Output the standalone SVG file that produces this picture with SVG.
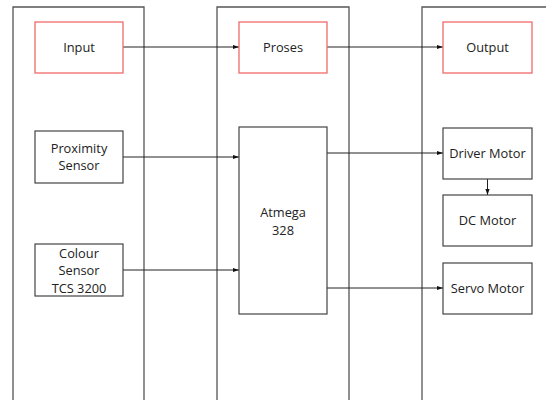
<svg xmlns="http://www.w3.org/2000/svg" width="546" height="400" viewBox="0 0 546 400">
<style>
.lane{fill:none;stroke:#555;stroke-width:1.3}
.box{fill:#fff;stroke:#444;stroke-width:1.2}
.red{fill:#fff;stroke:#f26b6b;stroke-width:1.3}
.t{font-family:"Open Sans","Liberation Sans",sans-serif;font-size:12.8px;fill:#222;text-anchor:middle}
.c{fill:none;stroke:#222;stroke-width:1}
</style>
<defs>
<marker id="a" viewBox="0 0 10 10" refX="10" refY="5" markerWidth="6" markerHeight="6" orient="auto" markerUnits="userSpaceOnUse">
<path d="M0,1.5 L10,5 L0,8.5 Z" fill="#111"/>
</marker>
</defs>
<rect width="546" height="400" fill="#fff"/>
<g id="lanes">
<path class="lane" d="M13,402 V7 H144 V402"/>
<path class="lane" d="M217,402 V7 H349 V402"/>
<path class="lane" d="M422,402 V7 H548"/>
</g>
<g id="connectors">
<line class="c" x1="123" y1="47" x2="239" y2="47" marker-end="url(#a)"/>
<line class="c" x1="327" y1="47" x2="443" y2="47" marker-end="url(#a)"/>
<line class="c" x1="123" y1="157" x2="239" y2="157" marker-end="url(#a)"/>
<line class="c" x1="123" y1="270" x2="239" y2="270" marker-end="url(#a)"/>
<line class="c" x1="327" y1="153" x2="443" y2="153" marker-end="url(#a)"/>
<line class="c" x1="327" y1="288" x2="443" y2="288" marker-end="url(#a)"/>
<line class="c" x1="487.5" y1="179" x2="487.5" y2="195" marker-end="url(#a)"/>
</g>
<g id="input"><rect class="red" x="35" y="22" width="88" height="51"/><text class="t" x="79" y="52">Input</text></g>
<g id="proximity"><rect class="box" x="35" y="131" width="88" height="52"/><text class="t" x="79" y="152.5">Proximity</text><text class="t" x="79" y="169.5">Sensor</text></g>
<g id="colour"><rect class="box" x="35" y="244" width="88" height="52"/><text class="t" x="79" y="257.5">Colour</text><text class="t" x="79" y="275">Sensor</text><text class="t" x="79" y="292.5">TCS 3200</text></g>
<g id="proses"><rect class="red" x="239" y="22" width="88" height="51"/><text class="t" x="283" y="52">Proses</text></g>
<g id="atmega"><rect class="box" x="239" y="127" width="88" height="187"/><text class="t" x="283" y="217">Atmega</text><text class="t" x="283" y="234.5">328</text></g>
<g id="output"><rect class="red" x="443" y="22" width="89" height="51"/><text class="t" x="487.5" y="52">Output</text></g>
<g id="driver"><rect class="box" x="443" y="128" width="89" height="51"/><text class="t" x="487.5" y="158">Driver Motor</text></g>
<g id="dc"><rect class="box" x="443" y="195" width="89" height="51"/><text class="t" x="487.5" y="225">DC Motor</text></g>
<g id="servo"><rect class="box" x="443" y="263" width="89" height="51"/><text class="t" x="487.5" y="293">Servo Motor</text></g>
</svg>
